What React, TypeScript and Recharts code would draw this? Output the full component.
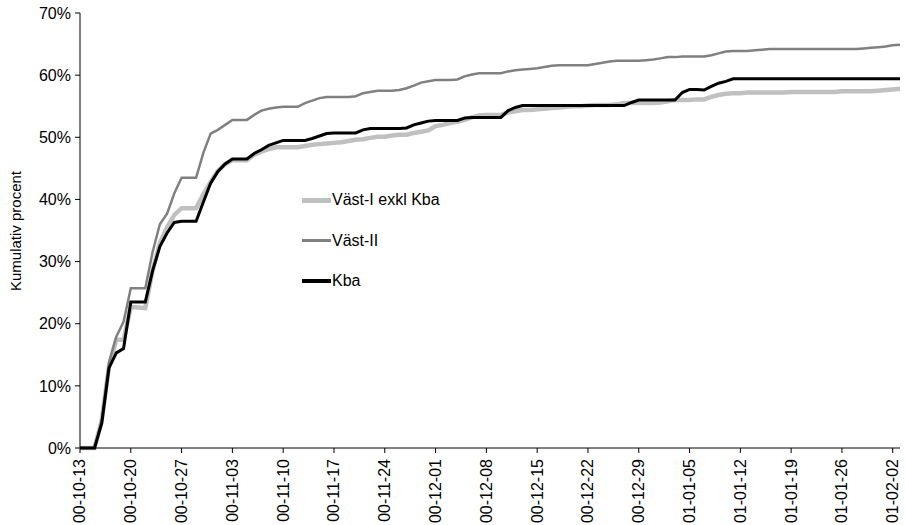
import { LineChart, Line, XAxis, YAxis } from 'recharts';

// days counted from 00-10-13; the axis runs one day past the last tick
const tickDays = [0, 7, 14, 21, 28, 35, 42, 49, 56, 63, 70, 77, 84, 91, 98, 105, 112];
const tickLabels = [
  '00-10-13', '00-10-20', '00-10-27', '00-11-03', '00-11-10', '00-11-17', '00-11-24', '00-12-01',
  '00-12-08', '00-12-15', '00-12-22', '00-12-29', '01-01-05', '01-01-12', '01-01-19', '01-01-26', '01-02-02',
];
const yTicks = [0, 10, 20, 30, 40, 50, 60, 70];

const vastI = [
  0, 0, 0, 4.5, 13.2, 17.4, 17.4, 22.7, 22.6, 22.5,
  28.5, 33.0, 35.5, 37.5, 38.6, 38.6, 38.6, 40.8, 42.8, 44.6,
  45.7, 46.3, 46.3, 46.3, 47.2, 47.7, 48.1, 48.4, 48.4, 48.4,
  48.4, 48.6, 48.8, 48.9, 49.0, 49.1, 49.2, 49.4, 49.6, 49.7,
  49.9, 50.1, 50.1, 50.3, 50.4, 50.4, 50.7, 50.9, 51.1, 51.8,
  52.0, 52.3, 52.5, 52.8, 53.2, 53.5, 53.6, 53.6, 53.6, 54.0,
  54.2, 54.4, 54.4, 54.5, 54.6, 54.7, 54.8, 54.9, 55.0, 55.0,
  55.1, 55.2, 55.2, 55.2, 55.3, 55.5, 55.5, 55.5, 55.5, 55.5,
  55.6, 55.8, 56.0, 56.0, 56.0, 56.1, 56.1, 56.5, 56.8, 57.0,
  57.1, 57.1, 57.2, 57.2, 57.2, 57.2, 57.2, 57.2, 57.3, 57.3,
  57.3, 57.3, 57.3, 57.3, 57.3, 57.4, 57.4, 57.4, 57.4, 57.4,
  57.5, 57.6, 57.7, 57.8,
];

const vastII = [
  0, 0, 0, 4.5, 13.8, 17.9, 20.3, 25.7, 25.7, 25.7,
  31.5, 36.0, 37.7, 41.0, 43.5, 43.5, 43.5, 47.5, 50.6, 51.2,
  52.0, 52.8, 52.8, 52.8, 53.6, 54.3, 54.6, 54.8, 54.9, 54.9,
  54.9, 55.5, 55.9, 56.3, 56.5, 56.5, 56.5, 56.5, 56.6, 57.1,
  57.3, 57.5, 57.5, 57.5, 57.6, 57.9, 58.3, 58.8, 59.0, 59.2,
  59.2, 59.2, 59.3, 59.8, 60.1, 60.3, 60.3, 60.3, 60.3, 60.6,
  60.8, 60.9, 61.0, 61.1, 61.3, 61.5, 61.6, 61.6, 61.6, 61.6,
  61.6, 61.8, 62.0, 62.2, 62.3, 62.3, 62.3, 62.3, 62.4, 62.5,
  62.7, 62.9, 62.9, 63.0, 63.0, 63.0, 63.0, 63.2, 63.5, 63.8,
  63.9, 63.9, 63.9, 64.0, 64.1, 64.2, 64.2, 64.2, 64.2, 64.2,
  64.2, 64.2, 64.2, 64.2, 64.2, 64.2, 64.2, 64.2, 64.3, 64.4,
  64.5, 64.6, 64.8, 64.9,
];

const kba = [
  0, 0, 0, 4.0, 12.9, 15.3, 16.0, 23.5, 23.5, 23.5,
  28.5, 32.4, 34.6, 36.3, 36.5, 36.5, 36.5, 39.6, 42.6, 44.5,
  45.7, 46.5, 46.5, 46.5, 47.4, 48.0, 48.7, 49.1, 49.5, 49.5,
  49.5, 49.5, 49.8, 50.2, 50.6, 50.7, 50.7, 50.7, 50.7, 51.2,
  51.4, 51.4, 51.4, 51.4, 51.4, 51.5, 52.0, 52.3, 52.6, 52.7,
  52.7, 52.7, 52.7, 53.1, 53.2, 53.2, 53.2, 53.2, 53.2, 54.3,
  54.8, 55.1, 55.1, 55.1, 55.1, 55.1, 55.1, 55.1, 55.1, 55.1,
  55.1, 55.1, 55.1, 55.1, 55.1, 55.1, 55.6, 56.0, 56.0, 56.0,
  56.0, 56.0, 56.0, 57.2, 57.7, 57.7, 57.6, 58.2, 58.7, 59.0,
  59.4, 59.4, 59.4, 59.4, 59.4, 59.4, 59.4, 59.4, 59.4, 59.4,
  59.4, 59.4, 59.4, 59.4, 59.4, 59.4, 59.4, 59.4, 59.4, 59.4,
  59.4, 59.4, 59.4, 59.4,
];

const data = kba.map((v, i) => ({ day: i, vastI: vastI[i], vastII: vastII[i], kba: v }));

const font = '"Liberation Sans", Arial, sans-serif';

const legendItems = [
  { label: 'Väst-I exkl Kba', color: '#C0C0C0', h: 5 },
  { label: 'Väst-II', color: '#808080', h: 3 },
  { label: 'Kba', color: '#000000', h: 4 },
];

function DateTick(props: any) {
  const { x, y, payload } = props;
  const idx = tickDays.indexOf(payload.value);
  return (
    <text
      x={x}
      y={y}
      transform={`rotate(-90 ${x} ${y})`}
      textAnchor="end"
      dy="0.34em"
      fontSize={16}
      fontFamily={font}
      fill="#000"
    >
      {idx >= 0 ? tickLabels[idx] : ''}
    </text>
  );
}

export default function App() {
  return (
    <div style={{ position: 'absolute', left: 0, top: 0, width: 905, height: 525, background: '#fff' }}>
      <LineChart
        width={905}
        height={525}
        data={data}
        margin={{ top: 13, right: 5, left: 0, bottom: 0 }}
      >
        <XAxis
          dataKey="day"
          type="number"
          domain={[0, 113]}
          ticks={tickDays}
          interval={0}
          height={77}
          tickSize={5}
          tickMargin={6}
          stroke="#000"
          tick={<DateTick />}
        />
        <YAxis
          domain={[0, 70]}
          ticks={yTicks}
          width={80}
          tickSize={5}
          tickMargin={4}
          stroke="#000"
          tickFormatter={(v) => `${v}%`}
          tick={{ fill: '#000', fontSize: 16, fontFamily: font }}
          label={{
            content: () => (
              <text
                x={15}
                y={231}
                transform="rotate(-90 15 231)"
                textAnchor="middle"
                dominantBaseline="central"
                fontSize={15}
                fontFamily={font}
                fill="#000"
              >
                Kumulativ procent
              </text>
            ),
          }}
        />
        <Line
          dataKey="vastI"
          stroke="#C0C0C0"
          strokeWidth={4.5}
          dot={false}
          isAnimationActive={false}
          type="linear"
        />
        <Line
          dataKey="vastII"
          stroke="#808080"
          strokeWidth={2.5}
          dot={false}
          isAnimationActive={false}
          type="linear"
        />
        <Line
          dataKey="kba"
          stroke="#000000"
          strokeWidth={3}
          dot={false}
          isAnimationActive={false}
          type="linear"
        />
      </LineChart>
      <div
        style={{
          position: 'absolute',
          left: 302,
          top: 180,
          fontFamily: font,
          fontSize: 16,
          color: '#000',
        }}
      >
        {legendItems.map((it) => (
          <div key={it.label} style={{ display: 'flex', alignItems: 'center', height: 40.5 }}>
            <div style={{ width: 29, height: it.h, background: it.color }} />
            <span style={{ marginLeft: 1 }}>{it.label}</span>
          </div>
        ))}
      </div>
    </div>
  );
}
